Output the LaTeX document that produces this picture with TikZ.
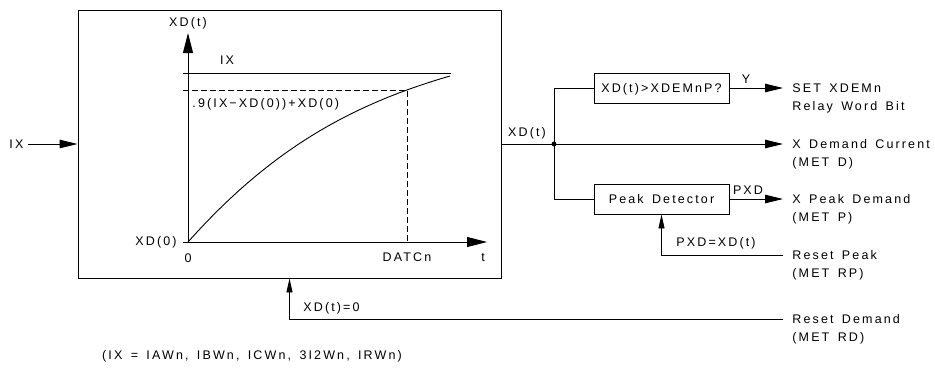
\documentclass[tikz,border=0pt]{standalone}
\usepackage{fontspec}
\setmainfont{Liberation Sans}[LetterSpace=17, WordSpace=1.5]
\usetikzlibrary{arrows.meta}
\begin{document}
\begin{tikzpicture}[x=1pt, y=-1pt,
  line width=0.9pt,
  lbl/.style={inner sep=0pt, font=\fontsize{12.5}{14}\selectfont, text height=9pt, text depth=0pt},
  blk/.style={draw, inner sep=0pt, minimum width=135pt, minimum height=30pt, font=\fontsize{12.5}{14}\selectfont, text height=9pt, text depth=0pt},
  arr/.style={-{Triangle[length=18pt,width=8.5pt]}},
  axarr/.style={-{Triangle[length=20pt,width=10pt]}},
  sarr/.style={-{Triangle[length=14pt,width=6pt]}},
  dsh/.style={dash pattern=on 6pt off 3pt}
]
\useasboundingbox (0,0) rectangle (935,373);

% main block
\node[draw, inner sep=0pt, minimum width=423pt, minimum height=268pt] (sys) at (289.5,144) {};

% input
\node[lbl, anchor=west] (ix) at (9,144) {IX};
\draw[arr, shorten <=4pt] (ix.east) -- (sys.west);

% graph
\coordinate (O) at (188,242);
\coordinate (yt) at (188,33);
\coordinate (xs) at (183,242);
\coordinate (xt) at (487,242);
\draw[axarr] (O) -- (yt);
\draw[axarr] (xs) -- (xt);
\node[lbl] (ylab) at (188,22) {XD(t)};
\coordinate (ixa) at (183,73);
\coordinate (ixb) at (451,73);
\draw (ixa) -- (ixb);
\node[lbl] (ixl) at (227,60) {IX};
\coordinate (da) at (183,90);
\coordinate (P) at (407,90);
\coordinate (db) at (407,242);
\draw[dsh] (da) -- (P) -- (db);
\node[lbl, anchor=west] (nine) at (192,103) {.9(IX−XD(0))+XD(0)};
\coordinate (ce) at (450,76);
\draw (O) .. controls (270,150) and (350,105) .. (ce);
\node[lbl, anchor=east] (xd0) at (177,241) {XD(0)};
\node[lbl] (zero) at (188,258) {0};
\node[lbl] (datc) at (407,257) {DATCn};
\node[lbl] (tl) at (483,257) {t};

% output
\coordinate (J) at (554,144);
\coordinate (o2) at (783,144);
\draw (sys.east) -- (J);
\draw[arr] (J) -- (o2);
\fill (J) circle (2.4pt);
\node[lbl] (xdt) at (527,132) {XD(t)};

\node[blk] (cmp) at (661.5,88) {XD(t)>XDEMnP?};
\node[blk] (pk) at (661.5,199) {Peak Detector};
\draw (J) |- (cmp.west);
\draw (J) |- (pk.west);

\coordinate (o1) at (783,88);
\coordinate (o3) at (783,199);
\draw[arr] (cmp.east) -- (o1);
\draw[arr] (pk.east) -- (o3);
\node[lbl] (yl) at (746,79) {Y};
\node[lbl] (pxd) at (748,190) {PXD};

\node[lbl, anchor=west] (t1a) at (792,88) {SET XDEMn};
\node[lbl, anchor=west] (t1b) at (792,106) {Relay Word Bit};
\node[lbl, anchor=west] (t2a) at (792,144) {X Demand Current};
\node[lbl, anchor=west] (t2b) at (792,162) {(MET D)};
\node[lbl, anchor=west] (t3a) at (792,199) {X Peak Demand};
\node[lbl, anchor=west] (t3b) at (792,217) {(MET P)};

% reset peak
\coordinate (rp) at (783,255);
\draw[sarr] (rp) -| (pk.south);
\node[lbl, anchor=west] (pxdeq) at (676,242) {PXD=XD(t)};
\node[lbl, anchor=west] (t4a) at (792,255) {Reset Peak};
\node[lbl, anchor=west] (t4b) at (792,273) {(MET RP)};

% reset demand
\coordinate (rd) at (783,319);
\draw[sarr] (rd) -| (sys.south);
\node[lbl, anchor=west] (xdeq) at (303,307) {XD(t)=0};
\node[lbl, anchor=west] (t5a) at (792,319) {Reset Demand};
\node[lbl, anchor=west] (t5b) at (792,337) {(MET RD)};

% footnote
\node[lbl] (foot) at (252,355) {(IX\ = IAWn, IBWn, ICWn, 3I2Wn, IRWn)};
\end{tikzpicture}
\end{document}
